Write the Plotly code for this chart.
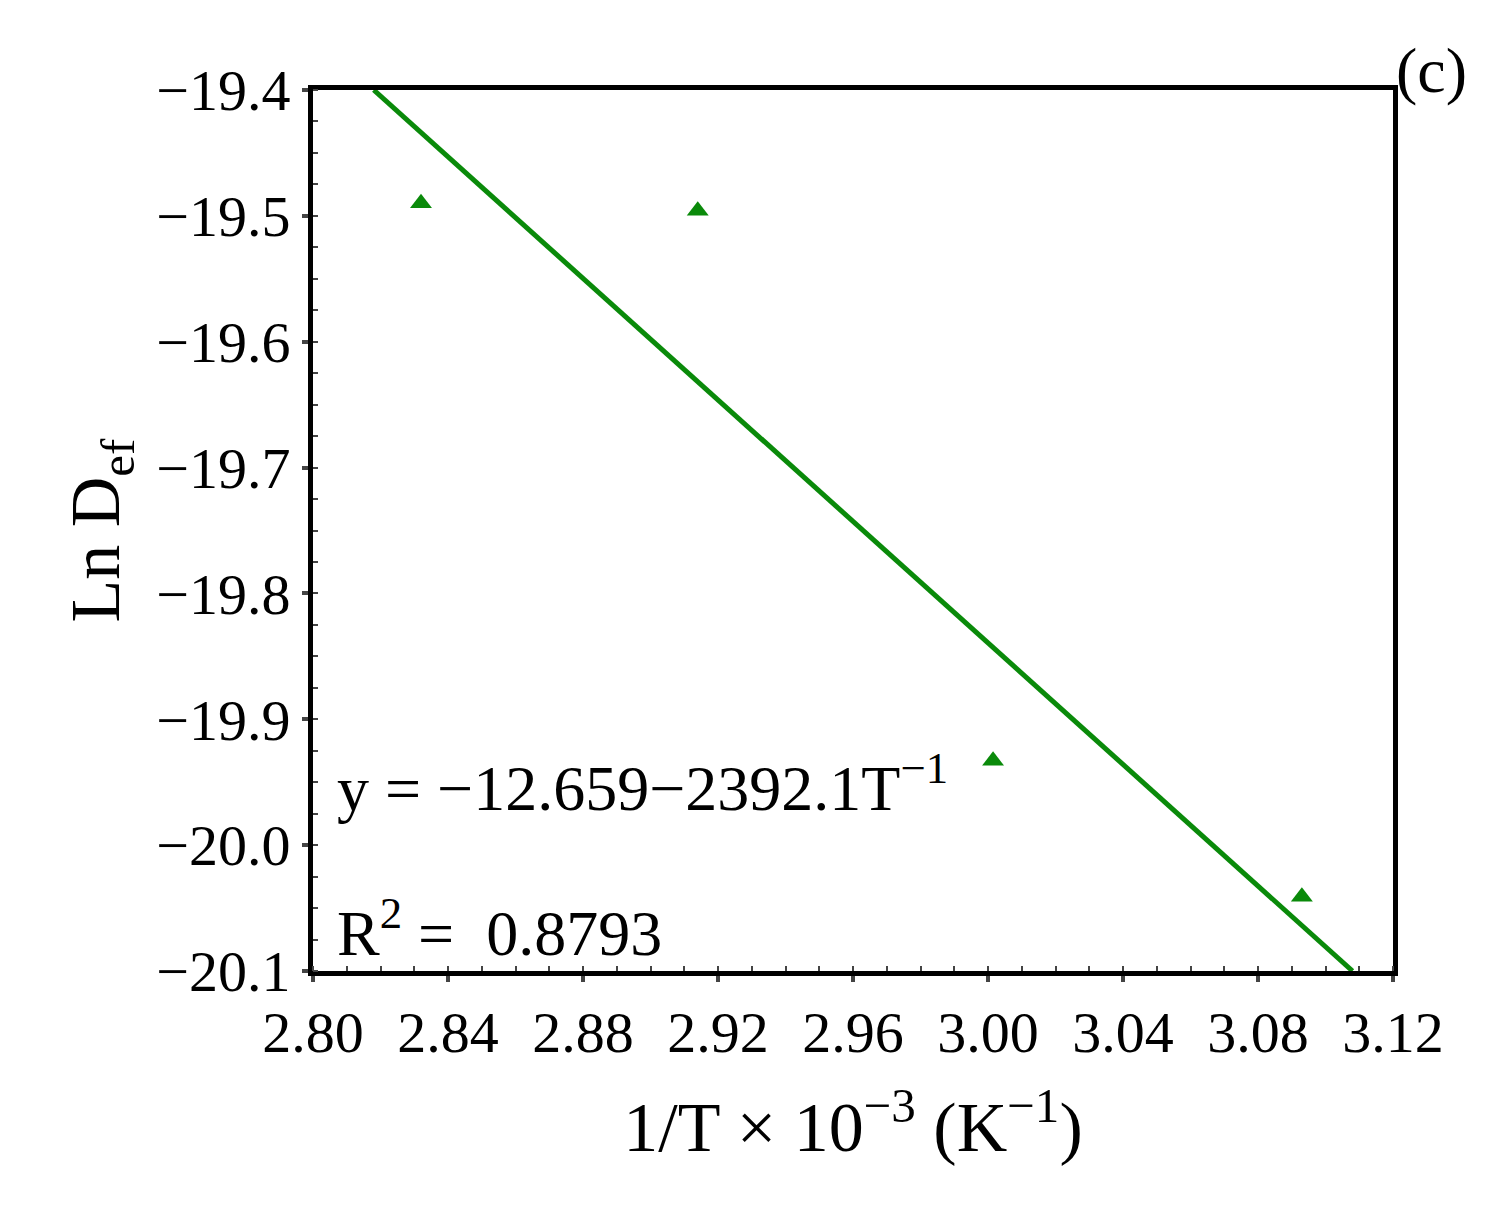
import plotly.graph_objects as go

# measured points (1/T x 10^-3, Ln Def)
inv_t = [2.832, 2.914, 3.0015, 3.093]
ln_def = [-19.49, -19.496, -19.933, -20.041]

# fitted line, read at the plot edges
fit_x = [2.818, 3.108]
fit_y = [-19.40, -20.10]

x_ticks = [2.80, 2.84, 2.88, 2.92, 2.96, 3.00, 3.04, 3.08, 3.12]
y_ticks = [-19.4, -19.5, -19.6, -19.7, -19.8, -19.9, -20.0, -20.1]

green = "#0a8a0a"
font = dict(family="Liberation Serif, DejaVu Serif, serif", size=58, color="black")
big = dict(family="Liberation Serif, DejaVu Serif, serif", size=64, color="black")

fig = go.Figure()
fig.add_trace(go.Scatter(x=fit_x, y=fit_y, mode="lines",
                         line=dict(color=green, width=5), showlegend=False))
fig.add_trace(go.Scatter(x=inv_t, y=ln_def, mode="markers",
                         marker=dict(symbol="triangle-up", size=19, color=green),
                         showlegend=False))

fig.update_layout(
    width=1501, height=1221,
    paper_bgcolor="white", plot_bgcolor="white",
    font=font,
    margin=dict(l=305, r=116, t=82, b=258),
    xaxis=dict(range=[2.80, 3.12], tickvals=x_ticks,
               ticktext=[f"{v:.2f}" for v in x_ticks],
               showgrid=False, zeroline=False, showline=True, linecolor="black",
               linewidth=5, mirror=True, ticks="outside", ticklen=6, tickwidth=4,
               minor=dict(ticks="inside", ticklen=5, tickwidth=2, dtick=0.01),
               title=dict(text="1/T × 10<sup>−3</sup> (K<sup>−1</sup>)", standoff=40)),
    yaxis=dict(range=[-20.1, -19.4], tickvals=y_ticks,
               ticktext=[f"{v:.1f}".replace("-", "−") for v in y_ticks],
               showgrid=False, zeroline=False, showline=True, linecolor="black",
               linewidth=5, mirror=True, ticks="outside", ticklen=6, tickwidth=4,
               minor=dict(ticks="inside", ticklen=5, tickwidth=2, dtick=0.025),
               title=dict(text="Ln D<sub>ef</sub>", standoff=15)),
)

fig.add_annotation(x=0.02, y=0.165, xref="paper", yref="paper", xanchor="left",
                   showarrow=False, font=big,
                   text="y = −12.659−2392.1T<sup>−1</sup>")
fig.add_annotation(x=0.02, y=0.0, xref="paper", yref="paper", xanchor="left",
                   yanchor="bottom", showarrow=False, font=big,
                   text="R<sup>2</sup> =  0.8793")
fig.add_annotation(x=1.07, y=1.065, xref="paper", yref="paper", showarrow=False,
                   font=big, text="(c)")

fig.write_html("out.html")
